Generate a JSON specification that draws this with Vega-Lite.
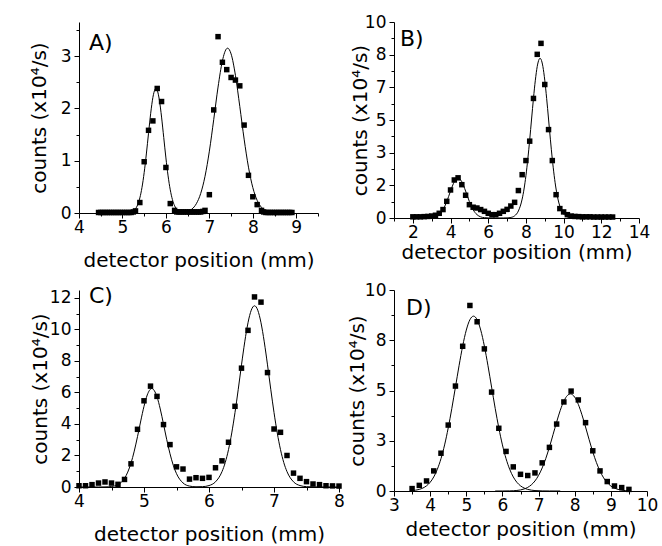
{
  "$schema": "https://vega.github.io/schema/vega-lite/v6.json",
  "background": "white",
  "padding": {"left": 29, "top": 13, "right": 5, "bottom": 5},
  "columns": 2,
  "spacing": {"row": 72, "column": 55},
  "bounds": "flush",
  "config": {
    "font": "DejaVu Sans",
    "view": {"stroke": null},
    "title": {"fontSize": 22, "fontWeight": "normal", "color": "#000", "font": "DejaVu Sans", "anchor": "start", "frame": "group", "baseline": "middle"},
    "axis": {"domainColor": "#000", "tickColor": "#000", "labelColor": "#000", "titleColor": "#000", "labelFontSize": 17, "titleFontSize": 20, "titleFontWeight": "normal", "labelFont": "DejaVu Sans", "titleFont": "DejaVu Sans", "grid": false, "labelOverlap": false, "labelFlush": false, "labelBound": false},
    "axisX": {"labelPadding": 1, "minExtent": 22, "maxExtent": 22},
    "axisY": {"labelPadding": 3, "minExtent": 28, "maxExtent": 28}
  },
  "datasets": {
    "pointsA": [
      {"x":4.45,"y":0.01},{"x":4.5,"y":0.01},{"x":4.55,"y":0.01},{"x":4.6,"y":0.01},{"x":4.65,"y":0.01},{"x":4.7,"y":0.01},{"x":4.75,"y":0.01},{"x":4.8,"y":0.01},{"x":4.85,"y":0.01},{"x":4.9,"y":0.01},{"x":4.95,"y":0.01},{"x":5.0,"y":0.01},{"x":5.05,"y":0.01},{"x":5.1,"y":0.01},{"x":5.15,"y":0.01},{"x":5.2,"y":0.01},{"x":5.25,"y":0.02},{"x":5.3,"y":0.04},
      {"x":5.4,"y":0.2},{"x":5.5,"y":0.98},{"x":5.6,"y":1.58},{"x":5.7,"y":1.76},{"x":5.8,"y":2.38},{"x":5.9,"y":2.13},{"x":6.0,"y":0.87},{"x":6.1,"y":0.18},{"x":6.2,"y":0.05},
      {"x":6.25,"y":0.02},{"x":6.3,"y":0.02},{"x":6.35,"y":0.02},{"x":6.4,"y":0.02},{"x":6.45,"y":0.02},{"x":6.5,"y":0.02},{"x":6.55,"y":0.02},{"x":6.6,"y":0.02},{"x":6.65,"y":0.02},{"x":6.7,"y":0.02},{"x":6.75,"y":0.02},{"x":6.8,"y":0.02},{"x":6.85,"y":0.03},
      {"x":6.9,"y":0.05},{"x":7.0,"y":0.35},{"x":7.1,"y":1.97},{"x":7.2,"y":3.37},{"x":7.3,"y":2.88},{"x":7.4,"y":2.74},{"x":7.5,"y":2.59},{"x":7.6,"y":2.54},{"x":7.7,"y":2.43},{"x":7.8,"y":1.68},{"x":7.9,"y":0.72},{"x":8.0,"y":0.31},{"x":8.1,"y":0.16},{"x":8.2,"y":0.05},
      {"x":8.25,"y":0.02},{"x":8.3,"y":0.01},{"x":8.35,"y":0.01},{"x":8.4,"y":0.01},{"x":8.45,"y":0.01},{"x":8.5,"y":0.01},{"x":8.55,"y":0.01},{"x":8.6,"y":0.01},{"x":8.65,"y":0.01},{"x":8.7,"y":0.01},{"x":8.75,"y":0.01},{"x":8.8,"y":0.01},{"x":8.85,"y":0.01},{"x":8.9,"y":0.01}
    ],
    "curveA": [
      {"x":4.45,"y":0},{"x":5.0,"y":0},{"x":5.1,"y":0.002},{"x":5.2,"y":0.016},{"x":5.3,"y":0.079},{"x":5.35,"y":0.156},{"x":5.4,"y":0.288},{"x":5.45,"y":0.49},{"x":5.5,"y":0.773},{"x":5.55,"y":1.128},{"x":5.6,"y":1.524},{"x":5.65,"y":1.906},{"x":5.7,"y":2.207},{"x":5.75,"y":2.365},{"x":5.77,"y":2.38},{"x":5.8,"y":2.347},{"x":5.85,"y":2.156},{"x":5.9,"y":1.833},{"x":5.95,"y":1.443},{"x":6.0,"y":1.052},{"x":6.05,"y":0.709},{"x":6.1,"y":0.443},{"x":6.15,"y":0.256},{"x":6.2,"y":0.137},{"x":6.25,"y":0.07},{"x":6.3,"y":0.034},{"x":6.35,"y":0.018},{"x":6.4,"y":0.015},{"x":6.45,"y":0.019},{"x":6.5,"y":0.029},{"x":6.6,"y":0.075},{"x":6.7,"y":0.177},{"x":6.8,"y":0.372},{"x":6.9,"y":0.701},{"x":7.0,"y":1.182},{"x":7.1,"y":1.783},{"x":7.2,"y":2.407},{"x":7.3,"y":2.908},{"x":7.4,"y":3.143},{"x":7.42,"y":3.15},{"x":7.5,"y":3.04},{"x":7.6,"y":2.631},{"x":7.7,"y":2.037},{"x":7.8,"y":1.412},{"x":7.9,"y":0.876},{"x":8.0,"y":0.486},{"x":8.1,"y":0.241},{"x":8.2,"y":0.107},{"x":8.3,"y":0.043},{"x":8.4,"y":0.015},{"x":8.5,"y":0.005},{"x":8.9,"y":0}
    ],
    "pointsB": [
      {"x":2.0,"y":0.06},{"x":2.2,"y":0.06},{"x":2.4,"y":0.06},{"x":2.6,"y":0.07},{"x":2.8,"y":0.08},{"x":3.0,"y":0.1},{"x":3.2,"y":0.14},{"x":3.4,"y":0.24},{"x":3.6,"y":0.43},{"x":3.8,"y":0.85},{"x":4.0,"y":1.43},{"x":4.2,"y":1.94},{"x":4.4,"y":2.05},{"x":4.6,"y":1.7},{"x":4.8,"y":1.16},{"x":5.0,"y":0.68},{"x":5.2,"y":0.55},{"x":5.4,"y":0.51},{"x":5.6,"y":0.43},{"x":5.8,"y":0.34},{"x":6.0,"y":0.24},{"x":6.2,"y":0.17},{"x":6.4,"y":0.17},{"x":6.6,"y":0.24},{"x":6.8,"y":0.34},{"x":7.0,"y":0.44},{"x":7.2,"y":0.61},{"x":7.4,"y":0.8},{"x":7.6,"y":1.4},{"x":7.8,"y":2.21},{"x":8.0,"y":2.93},{"x":8.2,"y":3.92},{"x":8.4,"y":6.1},{"x":8.6,"y":8.35},{"x":8.8,"y":8.91},{"x":9.0,"y":6.81},{"x":9.2,"y":4.51},{"x":9.4,"y":2.93},{"x":9.6,"y":1.19},{"x":9.8,"y":0.48},{"x":10.0,"y":0.31},{"x":10.2,"y":0.17},{"x":10.4,"y":0.1},{"x":10.6,"y":0.08},{"x":10.8,"y":0.07},{"x":11.0,"y":0.06},{"x":11.2,"y":0.06},{"x":11.4,"y":0.06},{"x":11.6,"y":0.05},{"x":11.8,"y":0.05},{"x":12.0,"y":0.05},{"x":12.2,"y":0.05},{"x":12.4,"y":0.05},{"x":12.6,"y":0.05}
    ],
    "curveB": [
      {"x":2.0,"y":0},{"x":2.4,"y":0},{"x":2.8,"y":0.004},{"x":3.0,"y":0.016},{"x":3.2,"y":0.058},{"x":3.4,"y":0.173},{"x":3.6,"y":0.42},{"x":3.8,"y":0.839},{"x":4.0,"y":1.374},{"x":4.2,"y":1.848},{"x":4.4,"y":2.04},{"x":4.6,"y":1.848},{"x":4.8,"y":1.374},{"x":5.0,"y":0.839},{"x":5.2,"y":0.42},{"x":5.4,"y":0.173},{"x":5.6,"y":0.058},{"x":5.8,"y":0.016},{"x":6.0,"y":0.004},{"x":6.4,"y":0},{"x":6.8,"y":0.001},{"x":7.0,"y":0.006},{"x":7.2,"y":0.028},{"x":7.4,"y":0.11},{"x":7.6,"y":0.358},{"x":7.8,"y":0.966},{"x":7.9,"y":1.479},{"x":8.0,"y":2.157},{"x":8.1,"y":3.003},{"x":8.2,"y":3.988},{"x":8.3,"y":5.05},{"x":8.4,"y":6.102},{"x":8.5,"y":7.03},{"x":8.6,"y":7.73},{"x":8.7,"y":8.1},{"x":8.75,"y":8.15},{"x":8.8,"y":8.1},{"x":8.9,"y":7.73},{"x":9.0,"y":7.03},{"x":9.1,"y":6.102},{"x":9.2,"y":5.05},{"x":9.3,"y":3.988},{"x":9.4,"y":3.003},{"x":9.5,"y":2.157},{"x":9.6,"y":1.479},{"x":9.7,"y":0.966},{"x":9.9,"y":0.358},{"x":10.1,"y":0.11},{"x":10.3,"y":0.028},{"x":10.5,"y":0.006},{"x":10.8,"y":0},{"x":12.6,"y":0}
    ],
    "pointsC": [
      {"x":4.0,"y":0.08},{"x":4.1,"y":0.08},{"x":4.2,"y":0.15},{"x":4.3,"y":0.25},{"x":4.4,"y":0.32},{"x":4.5,"y":0.25},{"x":4.6,"y":0.17},{"x":4.7,"y":0.48},{"x":4.8,"y":1.47},{"x":4.9,"y":3.66},{"x":5.0,"y":5.47},{"x":5.1,"y":6.4},{"x":5.2,"y":5.75},{"x":5.3,"y":3.96},{"x":5.4,"y":2.69},{"x":5.5,"y":1.28},{"x":5.6,"y":1.14},{"x":5.7,"y":0.5},{"x":5.8,"y":0.59},{"x":5.9,"y":0.55},{"x":6.0,"y":0.61},{"x":6.1,"y":1.22},{"x":6.2,"y":1.66},{"x":6.3,"y":2.84},{"x":6.4,"y":5.12},{"x":6.5,"y":7.54},{"x":6.6,"y":9.94},{"x":6.7,"y":12.06},{"x":6.8,"y":11.73},{"x":6.9,"y":7.26},{"x":7.0,"y":3.68},{"x":7.1,"y":3.47},{"x":7.2,"y":2.0},{"x":7.3,"y":0.88},{"x":7.4,"y":0.55},{"x":7.5,"y":0.34},{"x":7.6,"y":0.19},{"x":7.7,"y":0.15},{"x":7.8,"y":0.08},{"x":7.9,"y":0.07},{"x":8.0,"y":0.06}
    ],
    "curveC": [
      {"x":4.0,"y":0},{"x":4.3,"y":0},{"x":4.4,"y":0.005},{"x":4.5,"y":0.031},{"x":4.6,"y":0.148},{"x":4.7,"y":0.543},{"x":4.8,"y":1.514},{"x":4.85,"y":2.277},{"x":4.9,"y":3.197},{"x":4.95,"y":4.19},{"x":5.0,"y":5.12},{"x":5.05,"y":5.84},{"x":5.12,"y":6.25},{"x":5.2,"y":5.72},{"x":5.25,"y":4.95},{"x":5.3,"y":3.99},{"x":5.35,"y":3.0},{"x":5.4,"y":2.11},{"x":5.45,"y":1.383},{"x":5.5,"y":0.846},{"x":5.6,"y":0.257},{"x":5.7,"y":0.059},{"x":5.8,"y":0.014},{"x":5.9,"y":0.022},{"x":6.0,"y":0.091},{"x":6.1,"y":0.329},{"x":6.2,"y":0.974},{"x":6.25,"y":1.556},{"x":6.3,"y":2.37},{"x":6.35,"y":3.43},{"x":6.4,"y":4.73},{"x":6.45,"y":6.2},{"x":6.5,"y":7.75},{"x":6.55,"y":9.21},{"x":6.6,"y":10.42},{"x":6.65,"y":11.22},{"x":6.7,"y":11.5},{"x":6.75,"y":11.22},{"x":6.8,"y":10.42},{"x":6.85,"y":9.21},{"x":6.9,"y":7.75},{"x":6.95,"y":6.2},{"x":7.0,"y":4.73},{"x":7.05,"y":3.43},{"x":7.1,"y":2.37},{"x":7.15,"y":1.556},{"x":7.2,"y":0.974},{"x":7.3,"y":0.329},{"x":7.4,"y":0.091},{"x":7.5,"y":0.021},{"x":7.6,"y":0.004},{"x":7.7,"y":0},{"x":8.0,"y":0}
    ],
    "pointsD": [
      {"x":3.5,"y":0.12},{"x":3.7,"y":0.28},{"x":3.9,"y":0.5},{"x":4.1,"y":1.0},{"x":4.3,"y":1.88},{"x":4.5,"y":3.28},{"x":4.7,"y":5.22},{"x":4.9,"y":7.2},{"x":5.1,"y":9.23},{"x":5.3,"y":8.42},{"x":5.5,"y":7.07},{"x":5.7,"y":4.92},{"x":5.9,"y":3.12},{"x":6.1,"y":1.97},{"x":6.3,"y":1.2},{"x":6.5,"y":0.83},{"x":6.7,"y":0.77},{"x":6.9,"y":0.9},{"x":7.1,"y":1.4},{"x":7.3,"y":2.17},{"x":7.5,"y":3.33},{"x":7.7,"y":4.43},{"x":7.9,"y":4.97},{"x":8.1,"y":4.53},{"x":8.3,"y":3.4},{"x":8.5,"y":2.0},{"x":8.7,"y":1.0},{"x":8.9,"y":0.47},{"x":9.1,"y":0.25},{"x":9.3,"y":0.17},{"x":9.5,"y":0.08}
    ],
    "curveD": [
      {"c":"1","x":3.5,"y":0.021},{"c":"1","x":3.7,"y":0.08},{"c":"1","x":3.8,"y":0.147},{"c":"1","x":3.9,"y":0.258},{"c":"1","x":4.0,"y":0.433},{"c":"1","x":4.1,"y":0.7},{"c":"1","x":4.2,"y":1.085},{"c":"1","x":4.3,"y":1.61},{"c":"1","x":4.4,"y":2.294},{"c":"1","x":4.5,"y":3.136},{"c":"1","x":4.6,"y":4.111},{"c":"1","x":4.7,"y":5.17},{"c":"1","x":4.8,"y":6.234},{"c":"1","x":4.9,"y":7.213},{"c":"1","x":5.0,"y":8.005},{"c":"1","x":5.1,"y":8.521},{"c":"1","x":5.2,"y":8.7},{"c":"1","x":5.3,"y":8.521},{"c":"1","x":5.4,"y":8.005},{"c":"1","x":5.5,"y":7.213},{"c":"1","x":5.6,"y":6.234},{"c":"1","x":5.7,"y":5.17},{"c":"1","x":5.8,"y":4.111},{"c":"1","x":5.9,"y":3.136},{"c":"1","x":6.0,"y":2.294},{"c":"1","x":6.1,"y":1.61},{"c":"1","x":6.2,"y":1.085},{"c":"1","x":6.3,"y":0.7},{"c":"1","x":6.4,"y":0.433},{"c":"1","x":6.5,"y":0.258},{"c":"1","x":6.6,"y":0.147},{"c":"1","x":6.7,"y":0.08},{"c":"1","x":6.8,"y":0.042},{"c":"1","x":6.9,"y":0.021},{"c":"1","x":7.1,"y":0.005},{"c":"1","x":7.3,"y":0.001},{"c":"1","x":7.6,"y":0},
      {"c":"2","x":5.8,"y":0},{"c":"2","x":6.0,"y":0.001},{"c":"2","x":6.2,"y":0.006},{"c":"2","x":6.4,"y":0.027},{"c":"2","x":6.6,"y":0.101},{"c":"2","x":6.7,"y":0.18},{"c":"2","x":6.8,"y":0.307},{"c":"2","x":6.9,"y":0.499},{"c":"2","x":7.0,"y":0.775},{"c":"2","x":7.1,"y":1.147},{"c":"2","x":7.2,"y":1.62},{"c":"2","x":7.3,"y":2.181},{"c":"2","x":7.4,"y":2.802},{"c":"2","x":7.5,"y":3.434},{"c":"2","x":7.6,"y":4.013},{"c":"2","x":7.7,"y":4.474},{"c":"2","x":7.8,"y":4.757},{"c":"2","x":7.88,"y":4.83},{"c":"2","x":8.0,"y":4.668},{"c":"2","x":8.1,"y":4.307},{"c":"2","x":8.2,"y":3.791},{"c":"2","x":8.3,"y":3.184},{"c":"2","x":8.4,"y":2.549},{"c":"2","x":8.5,"y":1.947},{"c":"2","x":8.6,"y":1.419},{"c":"2","x":8.7,"y":0.986},{"c":"2","x":8.8,"y":0.654},{"c":"2","x":9.0,"y":0.249},{"c":"2","x":9.2,"y":0.079},{"c":"2","x":9.4,"y":0.021},{"c":"2","x":9.5,"y":0.01}
    ]
  },
  "concat": [
    {
      "width": 239, "height": 191,
      "title": {"text": "A)", "offset": -34, "dx": 10},
      "encoding": {
        "x": {"field": "x", "type": "quantitative", "scale": {"domain": [4, 9.5], "nice": false, "zero": false},
              "axis": {"title": "detector position (mm)", "titlePadding": 15.5, "labelOverlap": false, "values": [4,4.5,5,5.5,6,6.5,7,7.5,8,8.5,9,9.5],
                       "labelExpr": "datum.value % 1 == 0 ? format(datum.value, '.0f') : ''",
                       "tickSize": {"condition": {"test": "datum.value % 1 == 0", "value": 5}, "value": 3}}},
        "y": {"field": "y", "type": "quantitative", "scale": {"domain": [0, 3.65], "nice": false, "zero": false},
              "axis": {"title": "counts (x10⁴/s)", "titlePadding": 1.4, "labelOverlap": false, "values": [0,0.5,1,1.5,2,2.5,3,3.5],
                       "labelExpr": "datum.value % 1 == 0 ? format(datum.value, '.0f') : ''",
                       "tickSize": {"condition": {"test": "datum.value % 1 == 0", "value": 5}, "value": 3}}}
      },
      "layer": [
        {"data": {"name": "curveA"}, "mark": {"type": "line", "color": "#000", "strokeWidth": 1, "interpolate": "monotone"}},
        {"data": {"name": "pointsA"}, "mark": {"type": "square", "color": "#000", "size": 30, "opacity": 1, "filled": true}}
      ]
    },
    {
      "width": 245, "height": 196,
      "title": {"text": "B)", "offset": -38.4, "dx": 6},
      "encoding": {
        "x": {"field": "x", "type": "quantitative", "scale": {"domain": [1, 14], "nice": false, "zero": false},
              "axis": {"title": "detector position (mm)", "titlePadding": 2.5, "labelOverlap": false, "values": [1,2,3,4,5,6,7,8,9,10,11,12,13,14],
                       "labelExpr": "datum.value % 2 == 0 ? format(datum.value, '.0f') : ''",
                       "tickSize": {"condition": {"test": "datum.value % 2 == 0", "value": 5}, "value": 3}}},
        "y": {"field": "y", "type": "quantitative", "scale": {"domain": [0, 10], "nice": false, "zero": false},
              "axis": {"title": "counts (x10⁴/s)", "titlePadding": -4, "labelOverlap": false, "values": [0,0.833333,1.666667,2.5,3.333333,4.166667,5,5.833333,6.666667,7.5,8.333333,9.166667,10],
                       "labelExpr": "abs(datum.value*0.6 - round(datum.value*0.6)) < 0.01 ? format(datum.value, '.0f') : ''",
                       "tickSize": {"condition": {"test": "abs(datum.value*0.6 - round(datum.value*0.6)) < 0.01", "value": 5}, "value": 3}}}
      },
      "layer": [
        {"data": {"name": "curveB"}, "mark": {"type": "line", "color": "#000", "strokeWidth": 1, "interpolate": "monotone"}},
        {"data": {"name": "pointsB"}, "mark": {"type": "square", "color": "#000", "size": 30, "opacity": 1, "filled": true}}
      ]
    },
    {
      "width": 260, "height": 197,
      "title": {"text": "C)", "offset": -19, "dx": 10},
      "encoding": {
        "x": {"field": "x", "type": "quantitative", "scale": {"domain": [4, 8], "nice": false, "zero": false},
              "axis": {"title": "detector position (mm)", "titlePadding": 15.5, "labelOverlap": false, "values": [4,4.5,5,5.5,6,6.5,7,7.5,8],
                       "labelExpr": "datum.value % 1 == 0 ? format(datum.value, '.0f') : ''",
                       "tickSize": {"condition": {"test": "datum.value % 1 == 0", "value": 5}, "value": 3}}},
        "y": {"field": "y", "type": "quantitative", "scale": {"domain": [0, 12.5], "nice": false, "zero": false},
              "axis": {"title": "counts (x10⁴/s)", "titlePadding": 0.4, "labelOverlap": false, "values": [0,1,2,3,4,5,6,7,8,9,10,11,12],
                       "labelExpr": "datum.value % 2 == 0 ? format(datum.value, '.0f') : ''",
                       "tickSize": {"condition": {"test": "datum.value % 2 == 0", "value": 5}, "value": 3}}}
      },
      "layer": [
        {"data": {"name": "curveC"}, "mark": {"type": "line", "color": "#000", "strokeWidth": 1, "interpolate": "monotone"}},
        {"data": {"name": "pointsC"}, "mark": {"type": "square", "color": "#000", "size": 30, "opacity": 1, "filled": true}}
      ]
    },
    {
      "width": 253, "height": 201,
      "title": {"text": "D)", "offset": -39.4, "dx": 12},
      "encoding": {
        "x": {"field": "x", "type": "quantitative", "scale": {"domain": [3, 10], "nice": false, "zero": false},
              "axis": {"title": "detector position (mm)", "titlePadding": 6.5, "labelOverlap": false, "values": [3,3.5,4,4.5,5,5.5,6,6.5,7,7.5,8,8.5,9,9.5,10],
                       "labelExpr": "datum.value % 1 == 0 ? format(datum.value, '.0f') : ''",
                       "tickSize": {"condition": {"test": "datum.value % 1 == 0", "value": 5}, "value": 3}}},
        "y": {"field": "y", "type": "quantitative", "scale": {"domain": [0, 10], "nice": false, "zero": false},
              "axis": {"title": "counts (x10⁴/s)", "titlePadding": -1.6, "labelOverlap": false, "values": [0,1.25,2.5,3.75,5,6.25,7.5,8.75,10],
                       "labelExpr": "abs(datum.value/2.5 - round(datum.value/2.5)) < 0.01 ? format(datum.value, '.0f') : ''",
                       "tickSize": {"condition": {"test": "abs(datum.value/2.5 - round(datum.value/2.5)) < 0.01", "value": 5}, "value": 3}}}
      },
      "layer": [
        {"data": {"name": "curveD"}, "mark": {"type": "line", "color": "#000", "strokeWidth": 1, "interpolate": "monotone"},
         "encoding": {"detail": {"field": "c", "type": "nominal"}}},
        {"data": {"name": "pointsD"}, "mark": {"type": "square", "color": "#000", "size": 30, "opacity": 1, "filled": true}}
      ]
    }
  ]
}
